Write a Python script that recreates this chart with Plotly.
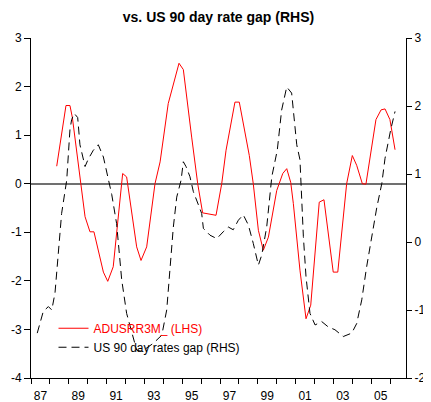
import plotly.graph_objects as go

# Red series: ADUSRR3M_ (LHS)
red_x = [1988.36, 1988.85, 1989.06, 1989.19, 1989.86, 1990.12, 1990.33, 1990.56, 1990.83,
         1991.06, 1991.35, 1991.85, 1992.06, 1992.59, 1992.82, 1993.12, 1993.56, 1993.83,
         1994.26, 1994.83, 1995.06, 1995.50, 1995.82, 1996.08, 1996.45, 1996.79, 1997.09,
         1997.32, 1997.79, 1998.02, 1998.55, 1998.76, 1999.03, 1999.29, 1999.56, 2000.00,
         2000.32, 2000.53, 2000.74, 2000.88, 2001.23, 2001.55, 2001.80, 2002.25, 2002.50,
         2002.99, 2003.23, 2003.70, 2004.00, 2004.23, 2004.53, 2004.72, 2005.25, 2005.52,
         2005.73, 2005.99, 2006.26]
red_y = [0.36, 1.61, 1.61, 1.36, -0.68, -0.99, -0.99, -1.37, -1.82,
         -2.01, -1.71, 0.21, 0.14, -1.30, -1.58, -1.30, 0.00, 0.45,
         1.65, 2.48, 2.35, 0.96, 0.00, -0.60, -0.62, -0.65, 0.00,
         0.69, 1.68, 1.68, 0.58, 0.00, -0.96, -1.37, -1.10, -0.14,
         0.21, 0.31, 0.03, -0.41, -1.78, -2.78, -2.50, -0.38, -0.33,
         -1.82, -1.82, 0.00, 0.58, 0.38, 0.00, -0.01, 1.32, 1.52,
         1.54, 1.32, 0.70]

# Black dashed series: US 90 day rates gap (RHS)
blk_x = [1987.33, 1987.65, 1987.92, 1988.10, 1988.27, 1988.44, 1988.62, 1988.89, 1989.06,
         1989.15, 1989.29, 1989.47, 1989.59, 1989.86, 1990.03, 1990.30, 1990.56, 1990.83,
         1991.27, 1991.53, 1991.80, 1992.06, 1992.33, 1992.59, 1992.86, 1993.47, 1993.92,
         1994.18, 1994.35, 1994.53, 1994.71, 1994.94, 1995.06, 1995.20, 1995.41, 1995.59,
         1996.03, 1996.12, 1996.47, 1996.83, 1997.17, 1997.44, 1997.70, 1997.97, 1998.23,
         1998.50, 1998.76, 1999.03, 1999.21, 1999.47, 1999.74, 2000.03, 2000.26, 2000.53,
         2000.79, 2001.06, 2001.23, 2001.41, 2001.55, 2001.76, 2002.03, 2002.38, 2002.73,
         2003.08, 2003.52, 2003.97, 2004.23, 2004.50, 2004.76, 2005.29, 2005.56, 2005.73,
         2006.03, 2006.26]
blk_y = [-1.34, -1.02, -0.95, -1.00, -0.75, -0.17, 0.42, 0.91, 1.65,
         1.80, 1.89, 1.83, 1.43, 1.11, 1.22, 1.35, 1.43, 1.25,
         0.70, 0.27, -0.56, -1.05, -1.34, -1.59, -1.61, -1.49, -1.37,
         -1.00, -0.41, 0.22, 0.66, 0.91, 1.18, 1.11, 0.96, 0.74,
         0.42, 0.20, 0.10, 0.05, 0.15, 0.22, 0.18, 0.32, 0.40,
         0.25, -0.02, -0.34, -0.19, 0.22, 0.96, 1.35, 1.94, 2.28,
         2.19, 1.43, 1.21, 0.08, -0.51, -1.05, -1.22, -1.17, -1.25,
         -1.29, -1.39, -1.34, -1.20, -0.85, -0.36, 0.50, 0.86, 1.23,
         1.65, 1.92]

x_label_pos = [1987.5, 1989.5, 1991.5, 1993.5, 1995.5, 1997.5, 1999.5, 2001.5, 2003.5, 2005.5]
x_labels = ["87", "89", "91", "93", "95", "97", "99", "01", "03", "05"]
left_ticks = [3, 2, 1, 0, -1, -2, -3, -4]
left_labels = ["3", "2", "1", "0", "-1", "-2", "-3", "-4"]
right_ticks = [3, 2, 1, 0, -1, -2]
right_labels = ["3", "2", "1", "0", "-1", "-2"]

FONT = "Liberation Sans, Arial, sans-serif"

fig = go.Figure()
fig.add_trace(go.Scatter(
    x=red_x, y=red_y, mode="lines", yaxis="y",
    name="<span style='color:#FF0000'>ADUSRR3M_ (LHS)</span>",
    line=dict(color="#FF0000", width=1),
))
fig.add_trace(go.Scatter(
    x=blk_x, y=blk_y, mode="lines", yaxis="y2",
    name="US 90 day rates gap (RHS)",
    line=dict(color="#000000", width=1, dash="8px,5px"),
))

# page body has an 8px margin, so the figure is sized to fit the 431x402 window
fig.update_layout(
    width=423, height=394,
    margin=dict(l=23, r=25, t=30, b=24),
    paper_bgcolor="white", plot_bgcolor="white",
    font=dict(family=FONT, size=12, color="black"),
    title=dict(text="<b>vs. US 90 day rate gap (RHS)</b>", x=0.5, xref="paper",
               y=1 - 9 / 394, yref="container", yanchor="middle", xanchor="center",
               font=dict(family=FONT, size=14, color="black")),
    showlegend=True,
    legend=dict(x=0.06, y=0.189, xanchor="left", yanchor="top",
                bgcolor="rgba(0,0,0,0)", font=dict(family=FONT, size=12, color="black"),
                tracegroupgap=0, itemwidth=30),
    xaxis=dict(range=[1987, 2006.84], tickmode="array", tickvals=x_label_pos, ticktext=x_labels,
               ticks="", showgrid=False, zeroline=False, showline=True, linecolor="black",
               linewidth=1, tickfont=dict(size=12, color="black"), automargin=False,
               ticklabelstandoff=7,
               minor=dict(tickmode="linear", tick0=1987, dtick=1, ticks="outside", ticklen=5,
                          tickcolor="black", tickwidth=1, showgrid=False)),
    yaxis=dict(range=[-4, 3], tickmode="array", tickvals=left_ticks, ticktext=left_labels,
               ticks="outside", ticklen=6,
               tickcolor="black", showgrid=False, showline=True, linecolor="black", linewidth=1,
               zeroline=True, zerolinecolor="#707070", zerolinewidth=1.5, automargin=False,
               tickfont=dict(size=12, color="black")),
    yaxis2=dict(range=[-2, 3], tickmode="array", tickvals=right_ticks, ticktext=right_labels,
                ticks="outside", ticklen=5,
                tickcolor="black", overlaying="y", side="right", showgrid=False, showline=True,
                linecolor="black", linewidth=1, zeroline=False, automargin=False,
                tickfont=dict(size=12, color="black")),
)

fig.write_html("out.html")
